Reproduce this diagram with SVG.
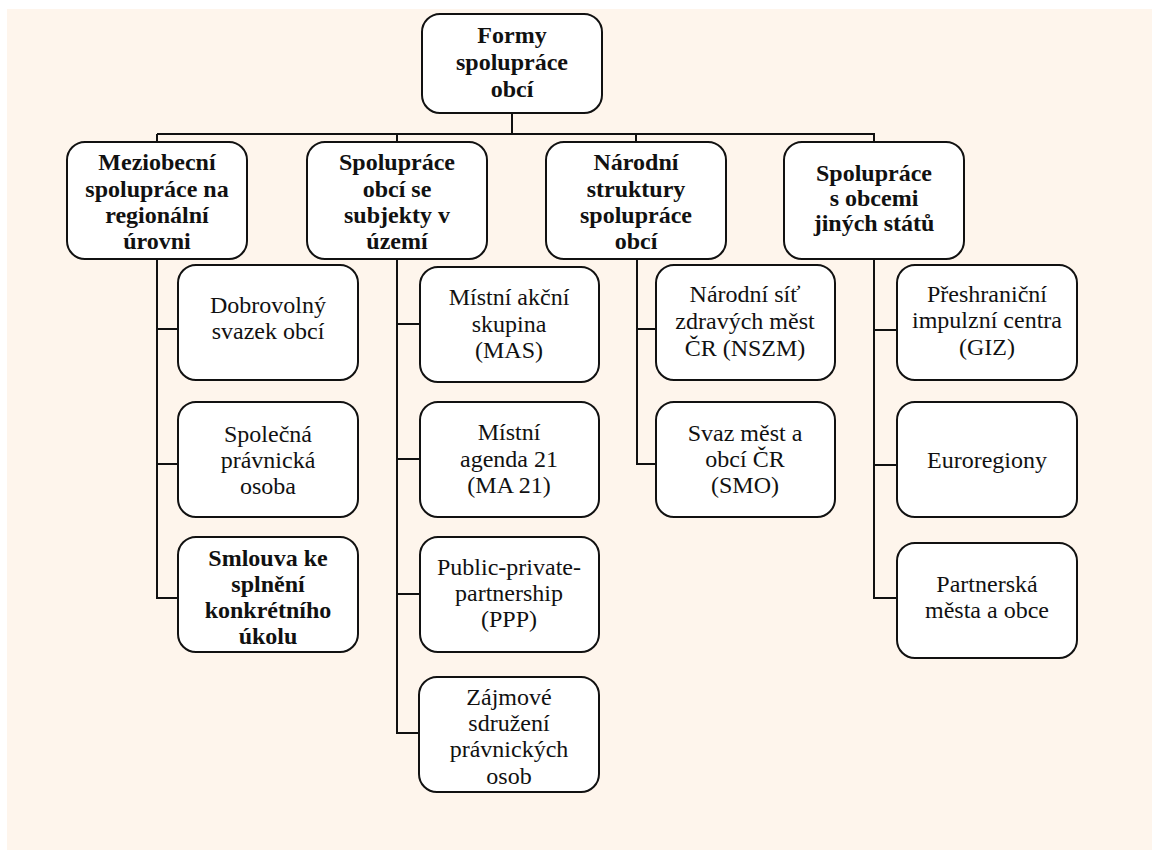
<svg xmlns="http://www.w3.org/2000/svg" width="1152" height="850" viewBox="0 0 1152 850">
<style>
.box{fill:#fff;stroke:#111;stroke-width:2}
.t{font-family:'Liberation Serif','DejaVu Serif',serif;font-size:24px;fill:#111;text-anchor:middle}
.b{font-weight:bold}
.con{fill:none;stroke:#111;stroke-width:2}
</style>
<defs>
<clipPath id="clipZ"><rect x="419" y="677" width="180" height="109"/></clipPath>
</defs>
<rect x="0" y="0" width="1152" height="850" fill="#fff"/>
<rect x="7" y="9" width="1145" height="841" fill="#fef5ec"/>
<g id="connectors" class="con">
<path d="M512 113V134M157 134H875M157 134V142M397 134V142M636 134V142M874 134V142"/>
<path d="M157 259V598H178M157 329H178M157 464H178"/>
<path d="M397 259V733H420M397 324H420M397 459H420M397 594H420"/>
<path d="M637 259V464H656M637 329H656"/>
<path d="M874 259V598H897M874 330H897M874 465H897"/>
</g>
<g id="root">
<rect class="box" x="422" y="14" width="180" height="99" rx="18"/>
<text class="t b" x="512" y="43">Formy</text>
<text class="t b" x="512" y="70">spolupráce</text>
<text class="t b" x="512" y="97">obcí</text>
</g>
<g id="meziobecni">
<rect class="box" x="67" y="142" width="180" height="117" rx="18"/>
<text class="t b" x="157" y="170">Meziobecní</text>
<text class="t b" x="157" y="197">spolupráce na</text>
<text class="t b" x="157" y="223">regionální</text>
<text class="t b" x="157" y="249">úrovni</text>
</g>
<g id="subjekty">
<rect class="box" x="307" y="142" width="180" height="117" rx="18"/>
<text class="t b" x="397" y="170">Spolupráce</text>
<text class="t b" x="397" y="197">obcí se</text>
<text class="t b" x="397" y="223">subjekty v</text>
<text class="t b" x="397" y="249">území</text>
</g>
<g id="narodni">
<rect class="box" x="546" y="142" width="180" height="117" rx="18"/>
<text class="t b" x="636" y="170">Národní</text>
<text class="t b" x="636" y="197">struktury</text>
<text class="t b" x="636" y="223">spolupráce</text>
<text class="t b" x="636" y="249">obcí</text>
</g>
<g id="zahranici">
<rect class="box" x="784" y="142" width="180" height="117" rx="18"/>
<text class="t b" x="874" y="181">Spolupráce</text>
<text class="t b" x="874" y="206">s obcemi</text>
<text class="t b" x="874" y="231">jiných států</text>
</g>
<g id="dso">
<rect class="box" x="178" y="265" width="180" height="115" rx="18"/>
<text class="t" x="268" y="313">Dobrovolný</text>
<text class="t" x="268" y="339">svazek obcí</text>
</g>
<g id="spo">
<rect class="box" x="178" y="402" width="180" height="115" rx="18"/>
<text class="t" x="268" y="442">Společná</text>
<text class="t" x="268" y="468">právnická</text>
<text class="t" x="268" y="494">osoba</text>
</g>
<g id="smlouva">
<rect class="box" x="178" y="537" width="180" height="115" rx="18"/>
<text class="t b" x="268" y="566">Smlouva ke</text>
<text class="t b" x="268" y="592">splnění</text>
<text class="t b" x="268" y="618">konkrétního</text>
<text class="t b" x="268" y="644">úkolu</text>
</g>
<g id="mas">
<rect class="box" x="420" y="267" width="179" height="115" rx="18"/>
<text class="t" x="509" y="305">Místní akční</text>
<text class="t" x="509" y="332">skupina</text>
<text class="t" x="509" y="358">(MAS)</text>
</g>
<g id="ma21">
<rect class="box" x="420" y="402" width="179" height="115" rx="18"/>
<text class="t" x="509" y="440">Místní</text>
<text class="t" x="509" y="467">agenda 21</text>
<text class="t" x="509" y="493">(MA 21)</text>
</g>
<g id="ppp">
<rect class="box" x="420" y="537" width="179" height="115" rx="18"/>
<text class="t" x="509" y="575">Public-private-</text>
<text class="t" x="509" y="601">partnership</text>
<text class="t" x="509" y="627">(PPP)</text>
</g>
<g id="zajmove">
<rect class="box" x="419" y="677" width="180" height="115" rx="18"/>
<g clip-path="url(#clipZ)">
<text class="t" x="509" y="705">Zájmové</text>
<text class="t" x="509" y="731">sdružení</text>
<text class="t" x="509" y="757">právnických</text>
<text class="t" x="509" y="784">osob</text>
</g>
</g>
<g id="nszm">
<rect class="box" x="656" y="265" width="179" height="115" rx="18"/>
<text class="t" x="745" y="302">Národní síť</text>
<text class="t" x="745" y="329">zdravých měst</text>
<text class="t" x="745" y="356">ČR (NSZM)</text>
</g>
<g id="smo">
<rect class="box" x="656" y="402" width="179" height="115" rx="18"/>
<text class="t" x="745" y="441">Svaz měst a</text>
<text class="t" x="745" y="467">obcí ČR</text>
<text class="t" x="745" y="493">(SMO)</text>
</g>
<g id="giz">
<rect class="box" x="897" y="265" width="180" height="115" rx="18"/>
<text class="t" x="987" y="302">Přeshraniční</text>
<text class="t" x="987" y="328">impulzní centra</text>
<text class="t" x="987" y="355">(GIZ)</text>
</g>
<g id="euroregiony">
<rect class="box" x="897" y="402" width="180" height="115" rx="18"/>
<text class="t" x="987" y="468">Euroregiony</text>
</g>
<g id="partnerska">
<rect class="box" x="897" y="543" width="180" height="115" rx="18"/>
<text class="t" x="987" y="592">Partnerská</text>
<text class="t" x="987" y="618">města a obce</text>
</g>
</svg>
